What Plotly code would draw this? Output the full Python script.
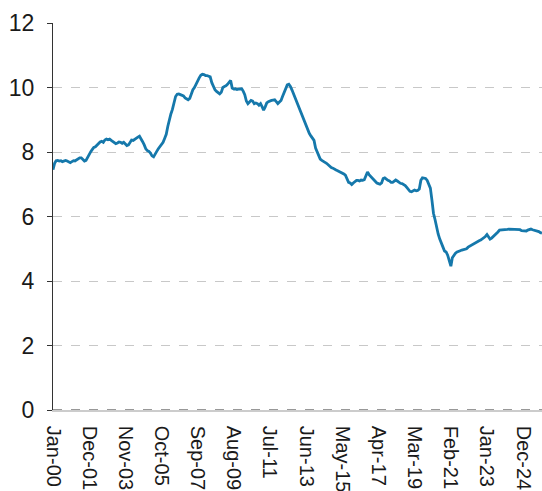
import pandas as pd
import plotly.graph_objects as go

# monthly values, Jan-2000 .. Dec-2025, one row per year
values = [
    7.45, 7.65, 7.73, 7.74, 7.72, 7.73, 7.70, 7.72, 7.74, 7.72, 7.70, 7.67,  # 2000
    7.70, 7.73, 7.72, 7.75, 7.78, 7.82, 7.82, 7.78, 7.72, 7.74, 7.84, 7.94,  # 2001
    8.01, 8.08, 8.14, 8.16, 8.22, 8.27, 8.31, 8.33, 8.30, 8.37, 8.40, 8.38,  # 2002
    8.40, 8.36, 8.32, 8.28, 8.26, 8.28, 8.31, 8.30, 8.27, 8.30, 8.25, 8.20,  # 2003
    8.22, 8.30, 8.37, 8.36, 8.40, 8.42, 8.46, 8.49, 8.42, 8.32, 8.22, 8.10,  # 2004
    8.04, 8.02, 7.97, 7.88, 7.85, 7.92, 8.02, 8.10, 8.17, 8.22, 8.30, 8.42,  # 2005
    8.55, 8.80, 9.00, 9.18, 9.32, 9.55, 9.72, 9.79, 9.80, 9.78, 9.76, 9.74,  # 2006
    9.68, 9.65, 9.62, 9.66, 9.80, 9.93, 10.00, 10.12, 10.20, 10.30, 10.38, 10.41,  # 2007
    10.40, 10.37, 10.37, 10.36, 10.33, 10.15, 10.02, 9.93, 9.88, 9.85, 9.80, 9.85,  # 2008
    10.00, 10.03, 10.05, 10.10, 10.18, 10.22, 9.98, 9.95, 9.96, 9.94, 9.95, 9.96,  # 2009
    9.96, 9.88, 9.78, 9.58, 9.50, 9.55, 9.60, 9.58, 9.50, 9.52, 9.50, 9.45,  # 2010
    9.50, 9.40, 9.30, 9.40, 9.52, 9.56, 9.59, 9.60, 9.61, 9.62, 9.56, 9.50,  # 2011
    9.55, 9.60, 9.72, 9.86, 9.94, 10.08, 10.10, 10.03, 9.92, 9.80, 9.66, 9.53,  # 2012
    9.42, 9.32, 9.18, 9.06, 8.95, 8.82, 8.70, 8.58, 8.50, 8.42, 8.36, 8.12,  # 2013
    7.98, 7.85, 7.78, 7.74, 7.72, 7.68, 7.65, 7.60, 7.56, 7.52, 7.50, 7.46,  # 2014
    7.44, 7.42, 7.40, 7.37, 7.35, 7.32, 7.28, 7.18, 7.06, 7.04, 6.99, 7.04,  # 2015
    7.08, 7.12, 7.12, 7.10, 7.13, 7.12, 7.14, 7.25, 7.38, 7.30, 7.24, 7.18,  # 2016
    7.14, 7.08, 7.04, 7.02, 7.00, 7.04, 7.18, 7.20, 7.15, 7.12, 7.10, 7.06,  # 2017
    7.06, 7.10, 7.13, 7.10, 7.06, 7.03, 7.02, 6.99, 6.96, 6.90, 6.84, 6.78,  # 2018
    6.77, 6.80, 6.82, 6.80, 6.81, 6.85, 7.12, 7.20, 7.20, 7.18, 7.12, 7.00,  # 2019
    6.88, 6.50, 6.10, 5.90, 5.62, 5.45, 5.30, 5.20, 5.05, 4.93, 4.90, 4.80,  # 2020
    4.62, 4.46, 4.72, 4.80, 4.86, 4.90, 4.93, 4.94, 4.96, 4.97, 4.98, 5.00,  # 2021
    5.05, 5.08, 5.12, 5.14, 5.17, 5.20, 5.22, 5.25, 5.27, 5.30, 5.33, 5.38,  # 2022
    5.44, 5.35, 5.30, 5.33, 5.37, 5.42, 5.45, 5.52, 5.58, 5.58, 5.58, 5.58,  # 2023
    5.59, 5.60, 5.61, 5.61, 5.61, 5.61, 5.61, 5.60, 5.60, 5.59, 5.56, 5.56,  # 2024
    5.56, 5.55, 5.58, 5.60, 5.61, 5.59, 5.58, 5.56, 5.54, 5.53, 5.50, 5.48,  # 2025
]
dates = pd.date_range("2000-01-01", periods=len(values), freq="MS")

tick_labels = ["Jan-00", "Dec-01", "Nov-03", "Oct-05", "Sep-07", "Aug-09", "Jul-11",
               "Jun-13", "May-15", "Apr-17", "Mar-19", "Feb-21", "Jan-23", "Dec-24"]
tick_dates = pd.date_range("2000-01-01", periods=len(tick_labels), freq="23MS")

y_ticks = [0, 2, 4, 6, 8, 10, 12]

font = "Liberation Sans, Arial, sans-serif"

fig = go.Figure()
fig.add_trace(go.Scatter(x=dates, y=values, mode="lines",
                         line=dict(color="#1578ab", width=2.8), showlegend=False))

# darker dashed line along zero
fig.add_shape(type="line", xref="paper", yref="y", x0=0, x1=1, y0=0, y1=0,
              line=dict(color="#333333", width=1.2, dash="dash"))

fig.update_layout(
    width=542, height=491,
    margin=dict(l=53, r=0, t=23, b=81),
    plot_bgcolor="white", paper_bgcolor="white",
    font=dict(family=font, color="#1a1a1a"),
)
fig.update_xaxes(
    range=[dates[0], dates[-1]],
    tickvals=tick_dates, ticktext=tick_labels,
    tickangle=90, tickfont=dict(size=20),
    ticks="", ticklabelstandoff=10,
    showgrid=False, zeroline=False, automargin=False,
    showline=True, linecolor="#cccccc", linewidth=1.5,
)
fig.update_yaxes(
    range=[0, 12], tickvals=y_ticks,
    tickfont=dict(size=23),
    ticks="outside", ticklen=5, tickcolor="#333333", tickwidth=1.3,
    ticklabelstandoff=8, automargin=False,
    showgrid=True, gridcolor="#c8c8c8", griddash="dash", gridwidth=1.3,
    zeroline=False,
    showline=True, linecolor="#333333", linewidth=1.3,
)

# page has a default body margin; drop it so the figure sits at the window corner
fig.write_html("out.html", config={"displayModeBar": False},
               post_script="document.body.style.margin='0';document.body.style.overflow='hidden';")
